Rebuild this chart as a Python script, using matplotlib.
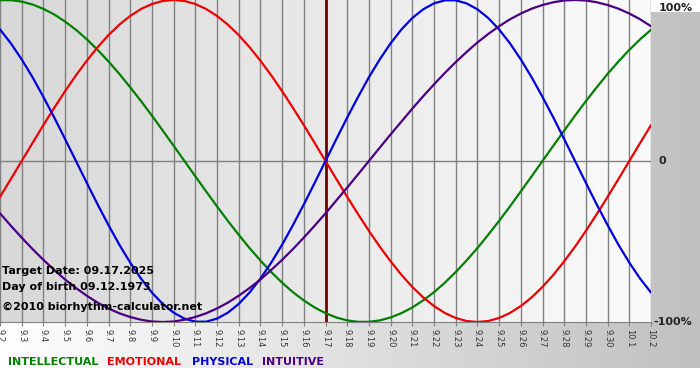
import matplotlib.pyplot as plt
import numpy as np
from matplotlib.colors import LinearSegmentedColormap

# day labels along the bottom axis (9.2 .. 10.2)
day_labels = ['9.%d' % d for d in range(2, 31)] + ['10.1', '10.2']

# cycle values every half day, -1 .. 1
intellectual = [0.999, 0.999, 0.990, 0.972, 0.945, 0.910, 0.866, 0.815, 0.756, 0.690,
                0.618, 0.541, 0.458, 0.372, 0.282, 0.189, 0.095, 0.000, -0.095, -0.189,
                -0.282, -0.372, -0.458, -0.541, -0.618, -0.690, -0.756, -0.815, -0.866, -0.910,
                -0.945, -0.972, -0.990, -0.999, -0.999, -0.990, -0.972, -0.945, -0.910, -0.866,
                -0.815, -0.756, -0.690, -0.618, -0.541, -0.458, -0.372, -0.282, -0.189, -0.095,
                0.000, 0.095, 0.189, 0.282, 0.372, 0.458, 0.541, 0.618, 0.690, 0.756, 0.815]
emotional = [-0.223, -0.112, 0.000, 0.112, 0.223, 0.330, 0.434, 0.532, 0.623, 0.707,
             0.782, 0.847, 0.901, 0.944, 0.975, 0.994, 1.000, 0.994, 0.975, 0.944,
             0.901, 0.847, 0.782, 0.707, 0.623, 0.532, 0.434, 0.330, 0.223, 0.112,
             0.000, -0.112, -0.223, -0.330, -0.434, -0.532, -0.623, -0.707, -0.782, -0.847,
             -0.901, -0.944, -0.975, -0.994, -1.000, -0.994, -0.975, -0.944, -0.901, -0.847,
             -0.782, -0.707, -0.623, -0.532, -0.434, -0.330, -0.223, -0.112, 0.000, 0.112, 0.223]
physical = [0.817, 0.731, 0.631, 0.520, 0.398, 0.270, 0.136, 0.000, -0.136, -0.270,
            -0.398, -0.520, -0.631, -0.731, -0.817, -0.888, -0.942, -0.979, -0.998, -0.998,
            -0.979, -0.942, -0.888, -0.817, -0.731, -0.631, -0.520, -0.398, -0.270, -0.136,
            0.000, 0.136, 0.270, 0.398, 0.520, 0.631, 0.731, 0.817, 0.888, 0.942,
            0.979, 0.998, 0.998, 0.979, 0.942, 0.888, 0.817, 0.731, 0.631, 0.520,
            0.398, 0.270, 0.136, 0.000, -0.136, -0.270, -0.398, -0.520, -0.631, -0.731, -0.817]
intuitive = [-0.325, -0.402, -0.476, -0.547, -0.614, -0.677, -0.736, -0.789, -0.837, -0.880,
             -0.916, -0.946, -0.969, -0.986, -0.997, -1.000, -0.997, -0.986, -0.969, -0.946,
             -0.916, -0.880, -0.837, -0.789, -0.736, -0.677, -0.614, -0.547, -0.476, -0.402,
             -0.325, -0.245, -0.165, -0.083, 0.000, 0.083, 0.165, 0.245, 0.325, 0.402,
             0.476, 0.547, 0.614, 0.677, 0.736, 0.789, 0.837, 0.880, 0.916, 0.946,
             0.969, 0.986, 0.997, 1.000, 0.997, 0.986, 0.969, 0.946, 0.916, 0.880, 0.837]

target_label = '9.17'
info_lines = ['Target Date: 09.17.2025', 'Day of birth 09.12.1973', '\u00a92010 biorhythm-calculator.net']

series = [
    ('INTELLECTUAL', intellectual, '#008000'),
    ('EMOTIONAL', emotional, '#ee0000'),
    ('PHYSICAL', physical, '#0000dd'),
    ('INTUITIVE', intuitive, '#4b0082'),
]

W, H = 700, 380
fig = plt.figure(figsize=(W / 100, H / 100), dpi=100)
fig.patch.set_facecolor('white')

# gray gradient behind everything (white at left, gray at right)
bg = fig.add_axes([0, 12 / H, 1, 356 / H], zorder=0)
bg.imshow(np.linspace(0, 1, 256).reshape(1, -1), aspect='auto', extent=[0, 1, 0, 1],
          cmap=LinearSegmentedColormap.from_list('bg', ['#ffffff', '#c0c0c0']))
bg.axis('off')

# plot area
ax = fig.add_axes([0, 1 - 322 / H, 651 / W, 322 / H], zorder=1)
ax.imshow(np.linspace(0, 1, 256).reshape(1, -1), aspect='auto', extent=[0, 30, -1, 1],
          cmap=LinearSegmentedColormap.from_list('pl', ['#d8d8d8', '#fbfbfb']), zorder=0)

days = np.arange(len(day_labels))
for xi in days:
    ax.axvline(xi, color='#808080', lw=1, zorder=1)
ax.axhline(0, color='#808080', lw=1, zorder=1)
ax.axvline(day_labels.index(target_label), color='#7a0000', lw=2, zorder=2)

for name, vals, col in series:
    xs = np.arange(len(vals)) / 2
    ax.plot(xs, vals, color=col, lw=1.6, zorder=3, solid_capstyle='round')

ax.set_xlim(0, 30)
ax.set_ylim(-1.0, 1.0)
for s in ax.spines.values():
    s.set_visible(False)
ax.spines['bottom'].set_visible(True)
ax.spines['bottom'].set_color('#808080')
ax.set_xticks(days)
ax.set_xticklabels(day_labels, rotation=270, fontsize=6, color='#333333')
ax.tick_params(axis='x', length=3, color='#808080', pad=2)
ax.set_yticks([])

# right side labels
for yv, txt in [(0.95, '100%'), (0, '0'), (-1.0, '-100%')]:
    ax.text(30.35 if txt != '-100%' else 30.1, yv, txt, fontsize=8, fontweight='bold',
            color='#222222', va='center', ha='left', clip_on=False)

# info text inside plot
for yv, line in zip([-0.683, -0.783, -0.907], info_lines):
    ax.text(0.1, yv, line, fontsize=8, fontweight='bold', color='black',
            va='center', ha='left', zorder=4)

# legend words along the bottom
xpos = [8, 107, 192, 262]
for (name, vals, col), px in zip(series, xpos):
    fig.text(px / W, 1 - 362 / H, name, fontsize=8, fontweight='bold', color=col,
             va='center', ha='left')

fig.savefig('out.png', dpi=100)
